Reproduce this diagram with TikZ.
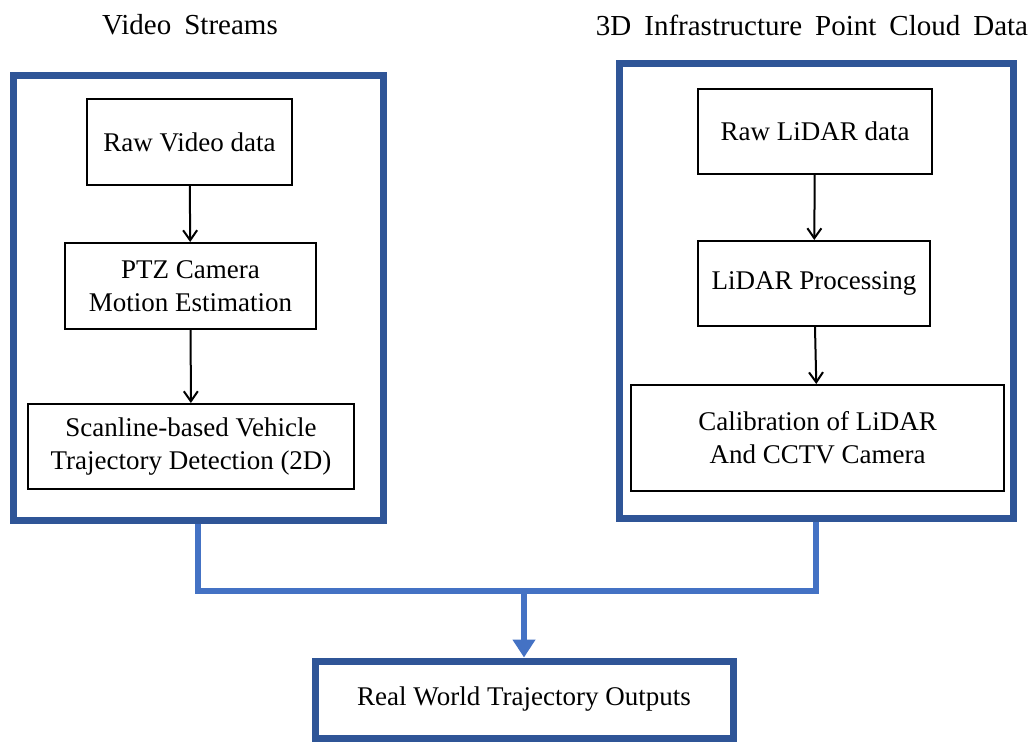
\documentclass[tikz,border=0pt]{standalone}
\usepackage{fontspec}
\setmainfont{Liberation Serif}
\usepackage{xcolor}
\usetikzlibrary{arrows.meta}
\definecolor{frameblue}{HTML}{2F5597}
\definecolor{linkblue}{HTML}{4472C4}
\newcommand{\titlefont}{\fontsize{14.5}{17}\selectfont\spaceskip 6.5pt\relax}

\begin{document}
\begin{tikzpicture}[x=0.5pt,y=-0.5pt,
	stage/.style={draw, line width=1pt, align=center, inner sep=0pt, font=\fontsize{13.5}{16.5}\selectfont},
	frame/.style={draw=frameblue, line width=3.5pt, inner sep=0pt, font=\fontsize{13.5}{16.5}\selectfont},
	heading/.style={anchor=base, font=\titlefont},
	flow/.style={line width=1pt, -{Straight Barb[length=5pt,width=7pt]}},
	link/.style={draw=linkblue, line width=3pt}]
		\useasboundingbox (0,0) rectangle (1032,742);
		% frames and titles
		\node[frame, minimum width=185pt, minimum height=222pt] (videoframe) at (198,298) {};
		\node[frame, minimum width=197pt, minimum height=227pt] (lidarframe) at (816,291) {};
		\node[heading] (videotitle) at (190,35) {Video Streams};
		\node[heading] (lidartitle) at (812,36) {3D Infrastructure Point Cloud Data};
		% video branch
		\node[stage, minimum width=102.5pt, minimum height=43pt] (rawvideo) at (189.5,142) {Raw Video data};
		\node[stage, minimum width=125.5pt, minimum height=43pt] (ptz) at (190.5,286) {PTZ Camera\\Motion Estimation};
		\node[stage, minimum width=163pt, minimum height=42.5pt] (scanline) at (191,446.5) {Scanline-based Vehicle\\Trajectory Detection (2D)};
		\draw[flow] (rawvideo) -- (ptz);
		\draw[flow] (ptz) -- (scanline);
		% lidar branch
		\node[stage, minimum width=117pt, minimum height=42.5pt] (rawlidar) at (815,131.5) {Raw LiDAR data};
		\node[stage, minimum width=116pt, minimum height=42.5pt] (lidarproc) at (814,283.5) {LiDAR Processing};
		\node[stage, minimum width=186.5pt, minimum height=53pt] (calib) at (817.5,438) {Calibration of LiDAR\\And CCTV Camera};
		\draw[flow] (rawlidar) -- (lidarproc);
		\draw[flow] (lidarproc) -- (calib);
		% output
		\node[frame, minimum width=209pt, minimum height=38.5pt] (outputs) at (524,699.5) {Real World Trajectory Outputs};
		\coordinate (merge) at (524,591);
		\draw[link] (videoframe.south) |- (merge) -| (lidarframe.south);
		\draw[link, -{Triangle[width=11pt,length=9pt]}] (merge) -- (outputs.north);
	\end{tikzpicture}
\end{document}
